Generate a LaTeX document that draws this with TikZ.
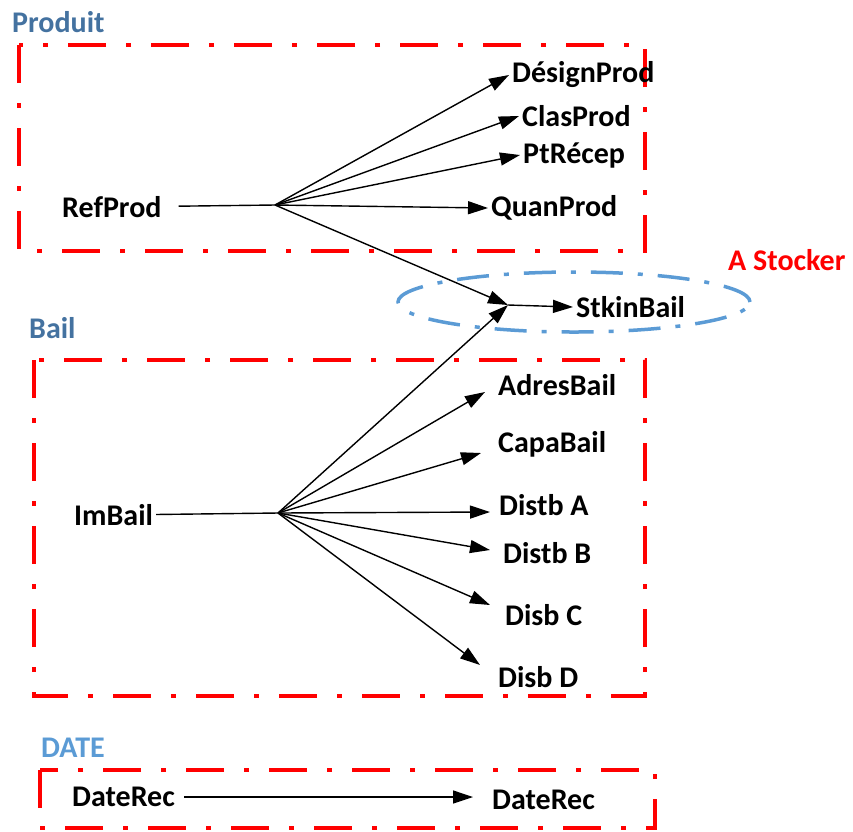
\documentclass[tikz,border=0pt]{standalone}
\usepackage{fontspec}
\setmainfont{Carlito}
\usetikzlibrary{arrows.meta}
\definecolor{titreBleu}{RGB}{68,114,160}
\definecolor{clair}{RGB}{91,155,213}
\definecolor{rouge}{RGB}{255,0,0}
\tikzset{
  attr/.style={font=\bfseries\fontsize{30}{31}\selectfont, inner sep=3pt, anchor=west},
  titre/.style={font=\bfseries\fontsize{30}{31}\selectfont, text=titreBleu, inner sep=0pt, anchor=west},
  cadre/.style={draw=rouge, line width=4pt, dash pattern=on 38pt off 20pt on 5pt off 20pt},
  stock/.style={draw=clair, line width=3.5pt, dash pattern=on 32pt off 15pt on 5pt off 15pt},
  fl/.style={line width=1.4pt, -{Triangle[length=20pt,width=13pt]}},
  tr/.style={line width=1.4pt}
}
\begin{document}
\begin{tikzpicture}[x=1pt,y=-1pt]
\useasboundingbox (0,0) rectangle (853,831);
% les trois cadres et l'ellipse
\draw[cadre] (19,45) rectangle (645,251);
\draw[cadre] (34,360) rectangle (645,696);
\draw[cadre] (40,770) rectangle (655,828);
\draw[stock] (574,302) ellipse [x radius=176pt, y radius=30pt];
% titres
\node[titre] (produit) at (12,22) {Produit};
\node[titre] (bail) at (29,328) {Bail};
\node[titre, text=clair] (date) at (41,748) {DATE};
\node[titre, text=rouge] (stocker) at (728,260) {A Stocker};
% Produit
\node[attr] (refprod) at (59,207) {RefProd};
\coordinate (jp) at (275,205);
\node[attr] (design) at (509,75) {DésignProd};
\node[attr] (clas) at (519,116) {ClasProd};
\node[attr] (ptrecep) at (520,155) {PtRécep};
\node[attr] (quan) at (488,208) {QuanProd};
\draw[tr, shorten <=14pt] (refprod) -- (jp);
\foreach \n in {design,clas,ptrecep,quan}
  \draw[fl] (jp) -- (\n.west);
% StkinBail
\coordinate (js) at (508,305);
\node[attr] (stkin) at (573,307) {StkinBail};
\draw[fl] (jp) -- (js);
\draw[fl] (js) -- (stkin.west);
% Bail
\node[attr] (imbail) at (71,515) {ImBail};
\coordinate (jb) at (278,513);
\node[attr] (adres) at (495,385) {AdresBail};
\node[attr] (capa) at (495,444) {CapaBail};
\node[attr] (dista) at (496,505) {Distb A};
\node[attr] (distb) at (500,553) {Distb B};
\node[attr] (disc) at (502,615) {Disb C};
\node[attr] (disd) at (495,677) {Disb D};
\draw[tr] (imbail) -- (jb);
\draw[fl] (jb) -- (js);
\draw[fl] (jb) -- ([shift={(-10pt,-7pt)}]adres.west);
\draw[fl] (jb) -- ([shift={(-14pt,-9pt)}]capa.west);
\draw[fl] (jb) -- ([shift={(-6pt,-7pt)}]dista.west);
\draw[fl] (jb) -- ([shift={(-10pt,3pt)}]distb.west);
\draw[fl] (jb) -- ([shift={(-12pt,10pt)}]disc.west);
\draw[fl] (jb) -- ([shift={(-15pt,12pt)}]disd.west);
% DATE
\node[attr] (rec1) at (69,797) {DateRec};
\node[attr] (rec2) at (489,800) {DateRec};
\draw[fl, shorten <=6pt, shorten >=16pt] (rec1.east |- 0,797) -- (rec2.west |- 0,797);
\end{tikzpicture}
\end{document}
